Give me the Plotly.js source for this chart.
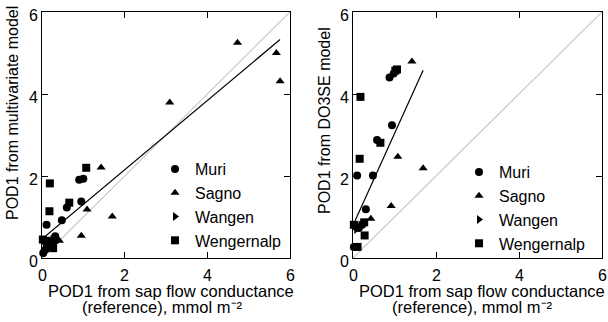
<!DOCTYPE html>
<html><head><meta charset="utf-8">
<script src="https://cdn.plot.ly/plotly-3.0.1.min.js"></script>
<style>html,body{margin:0;padding:0;background:#fff}#chart{width:608px;height:322px}</style>
</head><body><div id="chart"></div>
<script>
// Left panel: multivariate model vs sap flow reference
const muriX_L = [0.90, 1.00, 0.95, 0.60, 0.48, 0.11, 0.32, 0.03, 0.08, 0.15];
const muriY_L = [1.91, 1.93, 1.38, 1.23, 0.92, 0.81, 0.53, 0.12, 0.20, 0.35];
const sagnoX_L = [4.73, 5.67, 5.76, 3.09, 1.43, 1.09, 1.70, 0.95, 0.42];
const sagnoY_L = [5.25, 5.00, 4.31, 3.79, 2.21, 1.18, 1.01, 0.54, 0.42];
const wangenX_L = [0.12, 0.25, 0.35];
const wangenY_L = [0.30, 0.33, 0.40];
const wengX_L = [0.19, 0.18, 0.66, 1.07, 0.02, 0.10, 0.20, 0.30, 0.27, 0.12];
const wengY_L = [1.82, 1.14, 1.35, 2.20, 0.45, 0.42, 0.40, 0.45, 0.24, 0.30];
const fitX_L = [0, 5.76];
const fitY_L = [0.46, 5.33];

// Right panel: DO3SE model vs sap flow reference
const muriX_R = [0.88, 0.98, 0.94, 0.58, 0.10, 0.48, 0.31, 0.02, 0.06, 0.14, 0.22];
const muriY_R = [4.40, 4.50, 3.24, 2.88, 2.01, 2.01, 1.19, 0.27, 0.77, 0.73, 0.81];
const sagnoX_R = [1.42, 1.08, 1.69, 0.92, 0.43];
const sagnoY_R = [4.79, 2.47, 2.19, 1.27, 0.96];
const wangenX_R = [0.08, 0.18];
const wangenY_R = [0.70, 0.80];
const wengX_R = [1.06, 0.18, 0.16, 0.66, 0.28, 0.11, 0.02, 0.27, 1.02];
const wengY_R = [4.60, 3.93, 2.42, 2.81, 0.55, 0.27, 0.81, 0.87, 4.57];
const fitX_R = [0.05, 1.69];
const fitY_R = [0.91, 4.58];

const oneToOne = [0, 6];
const tickValues = [0, 2, 4, 6];
const tickLabels = ['0', '2', '4', '6'];
const sites = ['Muri', 'Sagno', 'Wangen', 'Wengernalp'];
const symbols = ['circle', 'triangle-up', 'triangle-right', 'square'];
const xTitle1 = 'POD1 from sap flow conductance';
const xTitle2 = '(reference), mmol m\u207B\u00B2';

function pts(x, y, i, xa, ya, lg) {
  return {x: x, y: y, type: 'scatter', mode: 'markers', name: sites[i],
    xaxis: xa, yaxis: ya, legend: lg, cliponaxis: false,
    marker: {symbol: symbols[i], size: 8, color: '#000'}};
}
function line(x, y, color, xa, ya) {
  return {x: x, y: y, type: 'scatter', mode: 'lines', showlegend: false,
    xaxis: xa, yaxis: ya, line: {color: color, width: 1.2}, hoverinfo: 'skip'};
}

const traces = [
  line(oneToOne, oneToOne, '#c8c8c8', 'x', 'y'),
  line(fitX_L, fitY_L, '#000', 'x', 'y'),
  pts(muriX_L, muriY_L, 0, 'x', 'y', 'legend'),
  pts(sagnoX_L, sagnoY_L, 1, 'x', 'y', 'legend'),
  pts(wangenX_L, wangenY_L, 2, 'x', 'y', 'legend'),
  pts(wengX_L, wengY_L, 3, 'x', 'y', 'legend'),
  line(oneToOne, oneToOne, '#c8c8c8', 'x2', 'y2'),
  line(fitX_R, fitY_R, '#000', 'x2', 'y2'),
  pts(muriX_R, muriY_R, 0, 'x2', 'y2', 'legend2'),
  pts(sagnoX_R, sagnoY_R, 1, 'x2', 'y2', 'legend2'),
  pts(wangenX_R, wangenY_R, 2, 'x2', 'y2', 'legend2'),
  pts(wengX_R, wengY_R, 3, 'x2', 'y2', 'legend2')
];

const fam = 'Liberation Sans, Arial, sans-serif';
const font = {family: fam, size: 16, color: '#000'};
function ax(domain, anchor, showLabels, shift) {
  return {domain: domain, anchor: anchor, range: [0, 6], tickvals: tickValues, ticktext: tickLabels,
    ticks: 'inside', ticklen: 6, tickwidth: 1, tickcolor: '#000',
    showline: true, linecolor: '#000', linewidth: 1, mirror: 'ticks',
    showticklabels: showLabels, ticklabelshift: shift,
    showgrid: false, zeroline: false, tickfont: font, automargin: false, fixedrange: true};
}
const legendBase = {font: font, bgcolor: 'rgba(0,0,0,0)', borderwidth: 0,
  tracegroupgap: 0, itemwidth: 30, xanchor: 'left', yanchor: 'top'};

const plotTop = 12, plotBottom = 258, plotH = plotBottom - plotTop;
function py(pix) { return 1 - (pix - plotTop) / plotH; }
function ann(text, xpix, ypix, size, angle) {
  return {text: text, x: xpix / 608, y: py(ypix), xref: 'paper', yref: 'paper',
    xanchor: 'center', yanchor: 'middle', showarrow: false, textangle: angle || 0,
    font: {family: fam, size: size, color: '#000'}};
}
// x tick labels placed through the data x scale
function xTickAnns(xref) {
  return tickValues.map((v, i) => ({text: tickLabels[i], x: v, xref: xref,
    y: py(275), yref: 'paper', xanchor: 'center', yanchor: 'middle',
    showarrow: false, font: font}));
}

const layout = {
  width: 608, height: 322,
  margin: {l: 0, r: 0, t: plotTop, b: 322 - plotBottom},
  paper_bgcolor: '#fff', plot_bgcolor: '#fff',
  font: font, showlegend: true,
  xaxis: ax([42/608, 290/608], 'y', false, 0),
  yaxis: ax([0, 1], 'x', true, 3),
  xaxis2: ax([353/608, 602/608], 'y2', false, 0),
  yaxis2: ax([0, 1], 'x2', true, 3),
  legend: Object.assign({x: 155/608, y: py(152)}, legendBase),
  legend2: Object.assign({x: 459/608, y: py(155)}, legendBase),
  annotations: [
    ann('POD1 from multivariate model', 12, 113, 16, -90),
    ann('POD1 from DO3SE model', 324, 121, 16, -90),
    ann(xTitle1, 171, 291, 16.5),
    ann(xTitle2, 162, 307, 16.5),
    ann(xTitle1, 482, 291, 16.5),
    ann(xTitle2, 472, 307, 16.5)
  ].concat(xTickAnns('x'), xTickAnns('x2'))
};

Plotly.newPlot('chart', traces, layout, {staticPlot: true, displayModeBar: false});
</script></body></html>
